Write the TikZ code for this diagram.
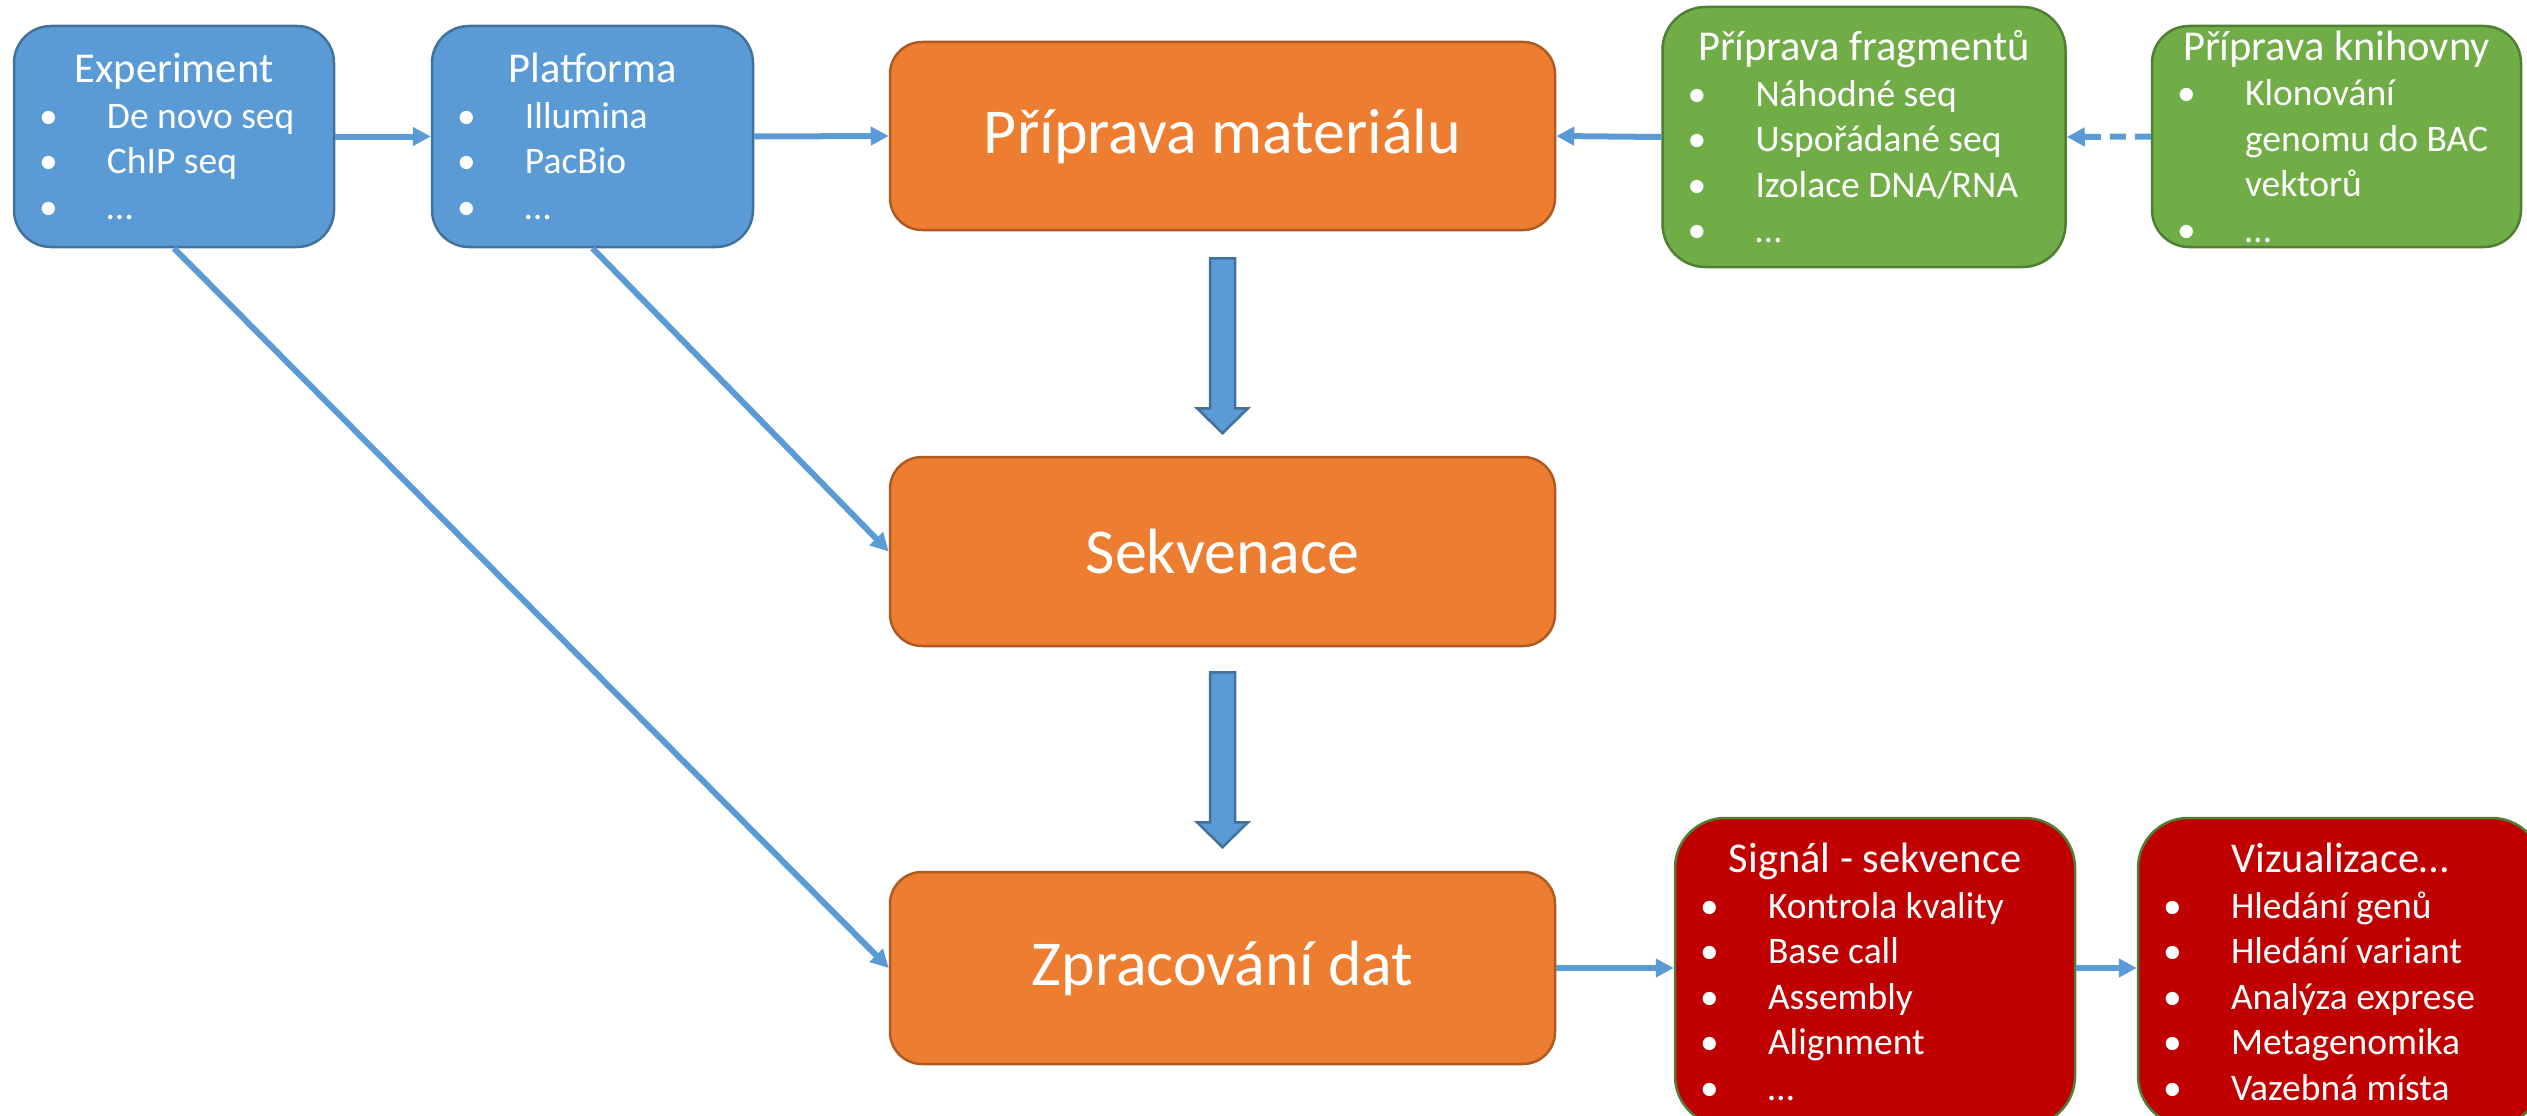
\documentclass[tikz,border=0pt]{standalone}
\usepackage{fontspec}
\setmainfont{Carlito}
\usetikzlibrary{calc,arrows.meta}

\definecolor{bfill}{HTML}{5B9BD5}
\definecolor{bline}{HTML}{41719C}
\definecolor{ofill}{HTML}{ED7D31}
\definecolor{oline}{HTML}{AE5A21}
\definecolor{gfill}{HTML}{70AD47}
\definecolor{gline}{HTML}{507E32}
\definecolor{rfill}{HTML}{C00000}

% box content: centred title, then bullet lines with a hanging indent
\newcommand\boxtext[3]{\begin{minipage}{#1pt}\fontsize{42.5}{45.5}\selectfont
  \centering #2\par\fontsize{37.5}{45.5}\selectfont\raggedright #3\end{minipage}}
\newcommand\bitem[1]{\hspace*{25pt}\makebox[68pt][l]{•}#1\par}
\newcommand\bcont[1]{\hspace*{93pt}#1\par}
\newcommand\bigtext[1]{\fontsize{64}{70}\selectfont #1}

\tikzset{
  card/.style={draw, line width=2.5pt, inner sep=0pt, text=white},
  bluecard/.style={card, fill=bfill, draw=bline},
  orangecard/.style={card, fill=ofill, draw=oline, rounded corners=32pt},
  greencard/.style={card, fill=gfill, draw=gline},
  redcard/.style={card, fill=rfill, draw=gline, rounded corners=50pt},
  flow/.style={draw=bfill, line width=6pt, -{Triangle[length=18pt,width=18pt]}},
  dflow/.style={flow, dash pattern=on 16pt off 9pt},
  blockarrow/.style={fill=bfill, draw=bline, line width=2.5pt, line join=miter},
}

\begin{document}
\begin{tikzpicture}[x=1pt,y=-1pt]
\useasboundingbox (0,0) rectangle (2527,1116);
\clip (0,0) rectangle (2527,1116);

% input boxes
\node[bluecard, rounded corners=37pt, minimum width=320pt, minimum height=221pt] (exp) at (174,136.5)
  {\boxtext{320}{Experiment}{\bitem{De novo seq}\bitem{ChIP seq}\bitem{…}}};
\node[bluecard, rounded corners=37pt, minimum width=321pt, minimum height=221pt] (plat) at (592.5,136.5)
  {\boxtext{321}{Platforma}{\bitem{Illumina}\bitem{PacBio}\bitem{…}}};

% main pipeline
\node[orangecard, minimum width=665pt, minimum height=188pt] (mat) at (1222.5,136)
  {\bigtext{Příprava materiálu}};
\node[orangecard, minimum width=665pt, minimum height=189pt] (seq) at (1222.5,551.5)
  {\bigtext{Sekvenace}};
\node[orangecard, minimum width=665pt, minimum height=192pt] (proc) at (1222.5,968)
  {\bigtext{Zpracování dat}};

% preparation boxes
\node[greencard, rounded corners=43pt, minimum width=403pt, minimum height=260pt] (frag) at (1864,137)
  {\boxtext{403}{Příprava fragmentů}{\bitem{Náhodné seq}\bitem{Uspořádané seq}\bitem{Izolace DNA/RNA}\bitem{…}}};
\node[greencard, rounded corners=37pt, minimum width=369pt, minimum height=221pt] (lib) at (2336.5,136.5)
  {\boxtext{369}{Příprava knihovny}{\bitem{Klonování}\bcont{genomu do BAC}\bcont{vektorů}\bitem{…}}};

% analysis boxes
\node[redcard, minimum width=400pt, minimum height=308pt] (sig) at (1875,972)
  {\boxtext{400}{Signál - sekvence}{\bitem{Kontrola kvality}\bitem{Base call}\bitem{Assembly}\bitem{Alignment}\bitem{…}}};
\node[redcard, minimum width=404pt, minimum height=308pt] (viz) at (2340,972)
  {\boxtext{404}{Vizualizace…}{\bitem{Hledání genů}\bitem{Hledání variant}\bitem{Analýza exprese}\bitem{Metagenomika}\bitem{Vazebná místa}}};

% connectors
\draw[flow] (exp.east) -- (plat.west);
\draw[flow] (plat.east) -- (mat.west);
\draw[flow] (frag.west) -- (mat.east);
\draw[dflow] (lib.west) -- (frag.east);
\draw[flow] (plat.south) -- (seq.west);
\draw[flow] (exp.south) -- (proc.west);
\draw[flow] (proc.east) -- (proc.east -| sig.west);
\draw[flow] (sig.east |- proc.east) -- (proc.east -| viz.west);

% block arrows between the pipeline stages
\draw[blockarrow] ($(mat.south)+(-12.5,27)$) -- ($(mat.south)+(12.5,27)$) -- ($(mat.south)+(12.5,177)$)
  -- ($(mat.south)+(25.5,177)$) -- ($(mat.south)+(0,202)$) -- ($(mat.south)+(-25.5,177)$)
  -- ($(mat.south)+(-12.5,177)$) -- cycle;
\draw[blockarrow] ($(seq.south)+(-12.5,25)$) -- ($(seq.south)+(12.5,25)$) -- ($(seq.south)+(12.5,175)$)
  -- ($(seq.south)+(25.5,175)$) -- ($(seq.south)+(0,200)$) -- ($(seq.south)+(-25.5,175)$)
  -- ($(seq.south)+(-12.5,175)$) -- cycle;
\end{tikzpicture}
\end{document}
